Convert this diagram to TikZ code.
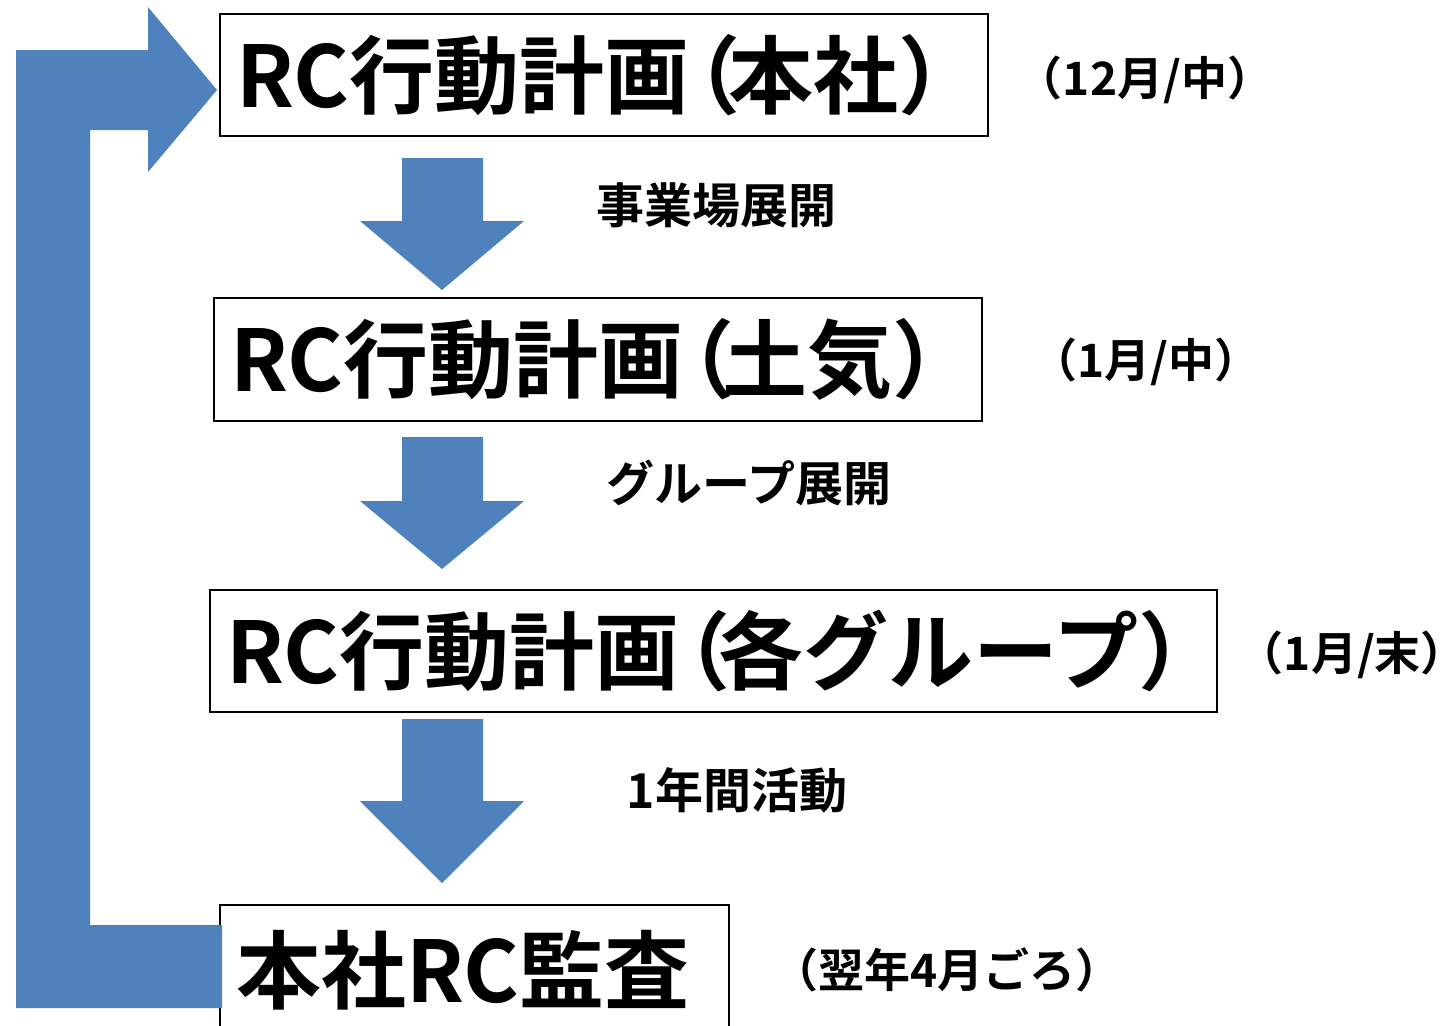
\documentclass[tikz,border=0pt]{standalone}
\usepackage{fontspec}
\setmainfont{Noto Sans CJK JP}[BoldFont={Noto Sans CJK JP Bold}]
\definecolor{arrowblue}{HTML}{4F81BD}
\newcommand{\tightlp}{\kern-0.4em（\kern-0.14em}
\begin{document}
\begin{tikzpicture}[x=1pt,y=-1pt,
  blk/.style={fill=arrowblue},
  stepbox/.style={draw=black, line width=2pt, inner xsep=16pt, inner ysep=0pt, anchor=west,
    font=\bfseries\fontsize{85}{90}\selectfont},
  lbl/.style={font=\bfseries\fontsize{48}{52}\selectfont, inner sep=0pt},
  when/.style={font=\bfseries\fontsize{46}{50}\selectfont, inner sep=0pt}]
\useasboundingbox (0,0) rectangle (1452,1026);
\clip (0,0) rectangle (1452,1026);

% boxes
\node[stepbox, minimum height=122pt] (b1) at (219,75) {\makebox[736pt][l]{RC行動計画\tightlp 本社）}};
\node[stepbox, minimum height=123pt] (b2) at (213,359.5) {\makebox[736pt][l]{RC行動計画\tightlp 土気）}};
\node[stepbox, minimum height=122pt] (b3) at (209,651) {\makebox[975pt][l]{RC行動計画\tightlp 各グループ）}};
\node[stepbox, minimum height=130pt] (b4) at (219,970) {\makebox[477pt][l]{本社RC監査}};

% down arrows
\fill[blk] (402,158) -- (483,158) -- (483,221) -- (524,221) -- (442,290) -- (360,221) -- (402,221) -- cycle;
\fill[blk] (402,437) -- (483,437) -- (483,501) -- (524,501) -- (442,569) -- (360,501) -- (402,501) -- cycle;
\fill[blk] (402,719) -- (483,719) -- (483,801) -- (524,801) -- (442,883) -- (360,801) -- (402,801) -- cycle;

% feedback arrow
\fill[blk] (16,50) -- (148,50) -- (148,7) -- (217,90) -- (148,172) -- (148,130) -- (90,130)
  -- (90,925) -- (222,925) -- (222,1008) -- (16,1008) -- cycle;

% arrow labels
\node[lbl] (l1) at (716,205) {事業場展開};
\node[lbl] (l2) at (749,483) {グループ展開};
\node[lbl] (l3) at (737,790) {1年間活動};

% timing labels
\node[when] (t1) at (1145,80) {（12月/中）};
\node[when] (t2) at (1146,362) {（1月/中）};
\node[when] (t3) at (1342,655) {（1月/末）\kern-0.45em};
\node[when] (t4) at (947,970) {（翌年4月ごろ）};
\end{tikzpicture}
\end{document}
